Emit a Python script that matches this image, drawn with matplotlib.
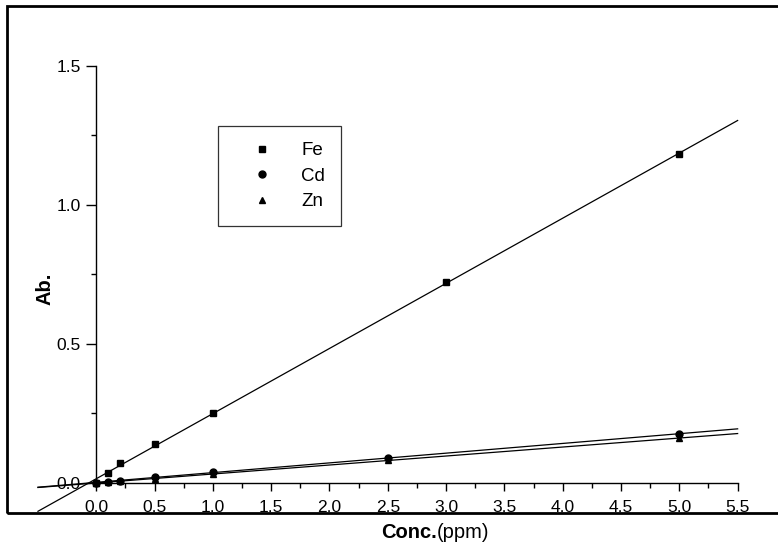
import numpy as np
import matplotlib.pyplot as plt
from matplotlib.patches import Rectangle

plt.rcParams['font.family'] = ['Liberation Sans', 'DejaVu Sans']

fe_x = [0.0, 0.1, 0.2, 0.5, 1.0, 3.0, 5.0]
fe_y = [0.0, 0.034, 0.071, 0.138, 0.250, 0.722, 1.182]
cd_x = [0.0, 0.1, 0.2, 0.5, 1.0, 2.5, 5.0]
cd_y = [0.0, 0.004, 0.007, 0.020, 0.040, 0.088, 0.176]
zn_x = [0.0, 0.1, 0.2, 0.5, 1.0, 2.5, 5.0]
zn_y = [0.0, 0.003, 0.005, 0.013, 0.031, 0.082, 0.160]
xticks = [0.0, 0.5, 1.0, 1.5, 2.0, 2.5, 3.0, 3.5, 4.0, 4.5, 5.0, 5.5]
yticks = [0.0, 0.5, 1.0, 1.5]
fit_range = [-0.5, 5.5]

W, H = 778, 551
fig = plt.figure(figsize=(W / 100, H / 100), dpi=100)
# axes covers the outer frame; inner axis lines sit at x=0 / y=0
ax = fig.add_axes([7.3 / W, 1 - 513.3 / H, 1.0, (513.3 - 6) / H])
ax.set_xlim(-0.763, 5.846 + (W * 0.0094) / 116.6)
ax.set_ylim(-0.110, 1.715)

for s in ['top', 'right']:
    ax.spines[s].set_visible(False)
ax.spines['left'].set_position(('data', 0))
ax.spines['bottom'].set_position(('data', 0))
ax.spines['left'].set_bounds(0, 1.5)
ax.spines['bottom'].set_bounds(0, 5.5)
ax.spines['left'].set_linewidth(1.0)
ax.spines['bottom'].set_linewidth(1.0)

ax.set_xticks(xticks)
ax.set_xticklabels([f'{v:.1f}' for v in xticks])
ax.set_xticks(np.arange(0.25, 5.5, 0.5), minor=True)
ax.set_yticks(yticks)
ax.set_yticklabels([f'{v:.1f}' for v in yticks])
ax.set_yticks([0.25, 0.75, 1.25], minor=True)
ax.tick_params(which='major', direction='out', width=1, labelsize=12.5)
ax.tick_params(which='minor', direction='out', length=3.6, width=1)
ax.tick_params(axis='x', which='major', length=6, pad=6.5)
ax.tick_params(axis='y', which='major', length=7.2, pad=4)

series = [(fe_x, fe_y, 's', 4.5, 'Fe'), (cd_x, cd_y, 'o', 5, 'Cd'), (zn_x, zn_y, '^', 5, 'Zn')]
handles = []
for xs, ys, mk, ms, lab in series:
    k, b = np.polyfit(xs, ys, 1)
    xf = np.array(fit_range)
    ax.plot(xf, k * xf + b, color='black', lw=0.9, clip_on=False)
    h, = ax.plot(xs, ys, mk, color='black', ms=ms, clip_on=False, label=lab)
    handles.append(h)

leg = fig.legend(handles=handles, loc='upper left', bbox_to_anchor=(218 / W, 1 - 126 / H),
                 frameon=True, fancybox=False, edgecolor='black', fontsize=13.5,
                 handlelength=3.0, handletextpad=0.6, borderpad=0.85, labelspacing=0.45,
                 borderaxespad=0)
leg.get_frame().set_linewidth(0.9)

# outer frame
fig.add_artist(Rectangle((7.3 / W, 1 - 513.3 / H), 1.0, (513.3 - 6) / H,
                         transform=fig.transFigure, fill=False, lw=2, ec='black'))

fig.text(45 / W, 1 - 289 / H, 'Ab.', rotation=90, fontsize=14.5, fontweight='bold',
         ha='center', va='center')
fig.text(437 / W, 1 - 532 / H, 'Conc.', fontsize=14.5, fontweight='bold', ha='right', va='center')
fig.text(437 / W, 1 - 532 / H, '(ppm)', fontsize=14.5, ha='left', va='center')

fig.savefig('out.png', dpi=100)
